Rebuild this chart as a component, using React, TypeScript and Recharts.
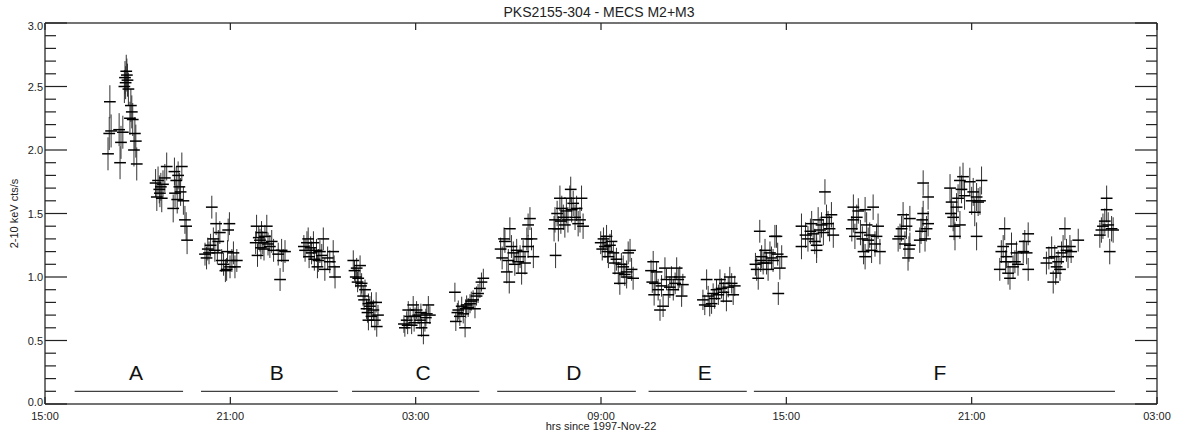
import { ScatterChart, Scatter, XAxis, YAxis, ErrorBar, ReferenceLine } from 'recharts'

type Pt = [number, number] // [hours since 1997-Nov-22 00:00, 2-10 keV cts/s]

const A1: Pt[] = [[17.04, 1.97], [17.08, 2.13], [17.10, 2.38], [17.14, 2.15], [17.40, 2.16], [17.43, 1.90], [17.46, 2.06], [17.52, 2.14], [17.57, 2.50], [17.59, 2.57], [17.61, 2.53], [17.63, 2.62], [17.65, 2.59], [17.67, 2.55], [17.70, 2.48], [17.75, 2.25], [17.78, 2.35], [17.81, 2.30], [17.84, 2.24], [17.88, 2.00], [17.91, 2.13], [17.94, 2.07], [17.97, 1.89]]
const A2: Pt[] = [[18.58, 1.74], [18.62, 1.63], [18.66, 1.76], [18.70, 1.69], [18.72, 1.66], [18.75, 1.71], [18.78, 1.62], [18.82, 1.73], [18.88, 1.78], [18.94, 1.87], [19.15, 1.54], [19.19, 1.83], [19.21, 1.66], [19.25, 1.76], [19.28, 1.61], [19.31, 1.80], [19.35, 1.71], [19.39, 1.67], [19.43, 1.87], [19.48, 1.60], [19.53, 1.45], [19.57, 1.40], [19.60, 1.29]]
const B1: Pt[] = [[20.18, 1.18], [20.23, 1.15], [20.27, 1.22], [20.31, 1.19], [20.36, 1.25], [20.40, 1.55], [20.45, 1.30], [20.50, 1.21], [20.54, 1.42], [20.58, 1.19], [20.61, 1.28], [20.66, 1.35], [20.72, 1.13], [20.78, 1.10], [20.84, 1.05], [20.88, 1.06], [20.91, 1.20], [20.93, 1.37], [20.97, 1.42], [20.99, 1.08], [21.05, 1.13], [21.10, 1.19], [21.15, 1.08], [21.21, 1.13]]
const B2: Pt[] = [[21.82, 1.27], [21.85, 1.40], [21.88, 1.17], [21.92, 1.31], [21.96, 1.29], [21.99, 1.23], [22.01, 1.35], [22.05, 1.27], [22.09, 1.22], [22.12, 1.32], [22.18, 1.40], [22.22, 1.26], [22.28, 1.24], [22.34, 1.28], [22.40, 1.21], [22.55, 1.18], [22.61, 0.98], [22.66, 1.21], [22.71, 1.13], [22.77, 1.20]]
const B3: Pt[] = [[23.38, 1.24], [23.42, 1.21], [23.48, 1.27], [23.52, 1.30], [23.55, 1.16], [23.60, 1.23], [23.63, 1.19], [23.69, 1.27], [23.72, 1.14], [23.79, 1.21], [23.82, 1.08], [23.85, 1.13], [23.90, 1.20], [23.96, 1.17], [24.01, 1.30], [24.06, 1.06], [24.15, 1.15], [24.22, 1.12], [24.33, 1.20], [24.36, 1.08], [24.39, 1.00]]
const C1: Pt[] = [[24.98, 1.13], [25.02, 1.05], [25.06, 1.00], [25.09, 1.07], [25.12, 0.96], [25.14, 0.99], [25.20, 1.09], [25.23, 0.93], [25.25, 0.95], [25.30, 0.85], [25.33, 0.82], [25.36, 0.90], [25.41, 0.75], [25.44, 0.72], [25.47, 0.79], [25.47, 0.66], [25.52, 0.77], [25.57, 0.80], [25.57, 0.69], [25.63, 0.74], [25.68, 0.66], [25.72, 0.80], [25.74, 0.61], [25.78, 0.70]]
const C2: Pt[] = [[26.62, 0.63], [26.65, 0.60], [26.71, 0.66], [26.74, 0.62], [26.76, 0.74], [26.82, 0.69], [26.87, 0.62], [26.92, 0.78], [26.95, 0.64], [26.98, 0.69], [27.03, 0.74], [27.08, 0.70], [27.14, 0.66], [27.17, 0.72], [27.19, 0.60], [27.25, 0.54], [27.30, 0.64], [27.33, 0.68], [27.36, 0.71], [27.41, 0.78], [27.46, 0.70]]
const C3: Pt[] = [[28.27, 0.88], [28.30, 0.65], [28.35, 0.72], [28.38, 0.74], [28.43, 0.69], [28.49, 0.77], [28.54, 0.71], [28.60, 0.60], [28.62, 0.75], [28.65, 0.78], [28.70, 0.76], [28.76, 0.79], [28.80, 0.81], [28.86, 0.82], [28.92, 0.75], [28.97, 0.85], [29.02, 0.87], [29.08, 0.91], [29.13, 0.96], [29.19, 0.99]]
const D1: Pt[] = [[29.75, 1.22], [29.80, 1.15], [29.86, 1.30], [29.89, 1.28], [29.95, 1.04], [30.00, 1.13], [30.03, 0.96], [30.05, 1.38], [30.10, 1.24], [30.16, 1.19], [30.21, 1.10], [30.27, 1.21], [30.32, 1.12], [30.38, 1.16], [30.43, 1.03], [30.48, 1.20], [30.54, 1.11], [30.60, 1.30], [30.64, 1.41], [30.64, 1.24], [30.70, 1.46], [30.75, 1.30], [30.81, 1.16]]
const D2: Pt[] = [[31.48, 1.38], [31.51, 1.45], [31.53, 1.17], [31.58, 1.50], [31.62, 1.38], [31.67, 1.62], [31.70, 1.44], [31.73, 1.54], [31.78, 1.47], [31.83, 1.41], [31.88, 1.52], [31.93, 1.45], [31.99, 1.62], [32.02, 1.69], [32.05, 1.53], [32.10, 1.58], [32.16, 1.47], [32.21, 1.54], [32.26, 1.42], [32.32, 1.45], [32.37, 1.62], [32.42, 1.40]]
const D3: Pt[] = [[32.99, 1.27], [33.04, 1.22], [33.08, 1.30], [33.13, 1.24], [33.18, 1.32], [33.21, 1.20], [33.24, 1.16], [33.29, 1.25], [33.34, 1.28], [33.40, 1.19], [33.45, 1.11], [33.50, 1.14], [33.56, 1.03], [33.61, 0.95], [33.66, 1.10], [33.72, 1.08], [33.77, 1.02], [33.83, 1.00], [33.83, 1.04], [33.88, 1.19], [33.94, 1.21], [33.99, 1.06], [34.04, 0.99]]
const E1: Pt[] = [[34.62, 1.05], [34.66, 0.96], [34.69, 1.12], [34.72, 0.86], [34.75, 0.95], [34.80, 1.04], [34.85, 0.90], [34.91, 0.74], [34.96, 0.93], [35.01, 0.77], [35.07, 1.07], [35.12, 0.98], [35.18, 0.86], [35.23, 0.92], [35.28, 1.00], [35.34, 0.90], [35.40, 0.95], [35.45, 1.07], [35.50, 0.98], [35.55, 1.00], [35.61, 0.85], [35.65, 0.94]]
const E2: Pt[] = [[36.30, 0.82], [36.36, 0.78], [36.42, 0.98], [36.47, 0.85], [36.52, 0.77], [36.58, 0.79], [36.63, 0.87], [36.68, 0.83], [36.74, 0.90], [36.80, 0.86], [36.85, 0.98], [36.90, 0.91], [36.96, 0.88], [37.01, 0.95], [37.06, 0.81], [37.12, 0.92], [37.17, 1.00], [37.23, 0.95], [37.28, 0.86], [37.33, 0.93]]
const F1: Pt[] = [[38.00, 1.10], [38.04, 1.06], [38.09, 0.99], [38.14, 1.36], [38.17, 1.13], [38.20, 1.16], [38.25, 1.11], [38.31, 1.21], [38.36, 1.11], [38.41, 1.06], [38.47, 1.19], [38.52, 1.15], [38.57, 1.13], [38.63, 1.32], [38.68, 1.32], [38.72, 1.18], [38.74, 0.87], [38.79, 1.07], [38.85, 1.16]]
const F2: Pt[] = [[39.49, 1.40], [39.49, 1.24], [39.62, 1.33], [39.70, 1.30], [39.78, 1.36], [39.82, 1.42], [39.87, 1.34], [39.92, 1.28], [39.98, 1.25], [39.98, 1.21], [40.03, 1.45], [40.09, 1.37], [40.14, 1.41], [40.20, 1.35], [40.25, 1.67], [40.30, 1.47], [40.35, 1.42], [40.40, 1.38], [40.46, 1.49], [40.52, 1.33]]
const F3: Pt[] = [[41.12, 1.38], [41.17, 1.55], [41.17, 1.45], [41.22, 1.32], [41.28, 1.47], [41.33, 1.52], [41.40, 1.35], [41.46, 1.30], [41.50, 1.20], [41.55, 1.53], [41.55, 1.16], [41.60, 1.41], [41.65, 1.29], [41.70, 1.33], [41.76, 1.21], [41.81, 1.55], [41.87, 1.26], [41.92, 1.32], [41.97, 1.40], [42.03, 1.20]]
const F4: Pt[] = [[42.62, 1.30], [42.68, 1.32], [42.73, 1.38], [42.78, 1.49], [42.84, 1.26], [42.89, 1.40], [42.94, 1.15], [42.97, 1.22], [43.00, 1.46], [43.00, 1.25], [43.32, 1.29], [43.36, 1.36], [43.40, 1.45], [43.43, 1.74], [43.43, 1.50], [43.49, 1.30], [43.54, 1.38], [43.59, 1.63], [43.59, 1.42]]
const F5: Pt[] = [[44.30, 1.70], [44.33, 1.50], [44.35, 1.59], [44.40, 1.47], [44.43, 1.40], [44.46, 1.32], [44.51, 1.55], [44.56, 1.62], [44.62, 1.76], [44.62, 1.41], [44.67, 1.69], [44.72, 1.79], [44.77, 1.64], [44.94, 1.75], [45.00, 1.60], [45.05, 1.67], [45.10, 1.51], [45.16, 1.63], [45.16, 1.32], [45.21, 1.59], [45.27, 1.60], [45.32, 1.76]]
const F6: Pt[] = [[45.91, 1.06], [45.96, 1.20], [46.02, 1.24], [46.07, 1.38], [46.10, 1.12], [46.13, 1.16], [46.18, 1.03], [46.24, 0.99], [46.29, 1.26], [46.34, 1.08], [46.40, 1.12], [46.45, 1.19], [46.50, 1.10], [46.67, 1.20], [46.72, 1.28], [46.78, 1.19], [46.83, 1.34], [46.83, 1.06]]
const F7: Pt[] = [[47.42, 1.11], [47.50, 1.15], [47.59, 1.23], [47.64, 0.96], [47.69, 1.16], [47.72, 1.03], [47.75, 1.08], [47.80, 1.12], [47.86, 1.06], [47.91, 1.19], [47.96, 1.24], [48.02, 1.38], [48.07, 1.21], [48.12, 1.16], [48.18, 1.24], [48.22, 1.20], [48.45, 1.29]]
const F8: Pt[] = [[49.15, 1.33], [49.20, 1.37], [49.25, 1.40], [49.31, 1.44], [49.37, 1.62], [49.37, 1.53], [49.42, 1.41], [49.47, 1.20], [49.53, 1.38], [49.58, 1.37]]

// one-sigma rate error per orbit, half bin width in hours
const orbits = [
  { seg: 'A', err: 0.13, pts: A1 }, { seg: 'A', err: 0.11, pts: A2 },
  { seg: 'B', err: 0.09, pts: B1 }, { seg: 'B', err: 0.09, pts: B2 }, { seg: 'B', err: 0.09, pts: B3 },
  { seg: 'C', err: 0.08, pts: C1 }, { seg: 'C', err: 0.07, pts: C2 }, { seg: 'C', err: 0.075, pts: C3 },
  { seg: 'D', err: 0.09, pts: D1 }, { seg: 'D', err: 0.1, pts: D2 }, { seg: 'D', err: 0.09, pts: D3 },
  { seg: 'E', err: 0.085, pts: E1 }, { seg: 'E', err: 0.08, pts: E2 },
  { seg: 'F', err: 0.09, pts: F1 }, { seg: 'F', err: 0.1, pts: F2 }, { seg: 'F', err: 0.1, pts: F3 },
  { seg: 'F', err: 0.1, pts: F4 }, { seg: 'F', err: 0.11, pts: F5 }, { seg: 'F', err: 0.09, pts: F6 },
  { seg: 'F', err: 0.09, pts: F7 }, { seg: 'F', err: 0.1, pts: F8 },
]
const halfBin = 0.19

const segNames = ['A', 'B', 'C', 'D', 'E', 'F']
const segFrom = [15.96, 20.05, 24.94, 29.64, 34.54, 37.95]
const segTo = [19.47, 24.48, 29.06, 34.13, 37.72, 49.64]
const segMid = [17.95, 22.5, 27.24, 32.12, 36.36, 43.97]
const segLevel = 0.1
const segLabelLevel = 0.19

const xTicks = [15, 21, 27, 33, 39, 45, 51]
const xTickLabels = ['15:00', '21:00', '03:00', '09:00', '15:00', '21:00', '03:00']
const yTicks = [0, 0.1, 0.2, 0.3, 0.4, 0.5, 0.6, 0.7, 0.8, 0.9, 1, 1.1, 1.2, 1.3, 1.4, 1.5, 1.6, 1.7, 1.8, 1.9, 2,
  2.1, 2.2, 2.3, 2.4, 2.5, 2.6, 2.7, 2.8, 2.9, 3]

const FONT = '"Liberation Sans", Arial, Helvetica, sans-serif'
const FRAME = { stroke: '#444', strokeWidth: 1.5 }
const TICK = '#222'

const isMajor = (v: number) => Math.abs(v * 2 - Math.round(v * 2)) < 1e-6

function LeftTick(p: any) {
  const v = p.payload.value
  const major = isMajor(v)
  const dy = v === 0 ? -2.5 : v === 3 ? 2.5 : 0
  return (
    <g>
      <rect x={p.x} y={p.y - 0.6} width={major ? 22 : 11} height={1.2} fill={TICK} />
      {major && (
        <text x={p.x - 2} y={p.y + 4 + dy} textAnchor="end" fontSize={11} fontFamily={FONT} fill="#222">
          {v.toFixed(1)}
        </text>
      )}
    </g>
  )
}

function RightTick(p: any) {
  const w = isMajor(p.payload.value) ? 22 : 11
  return <rect x={p.x - w} y={p.y - 0.6} width={w} height={1.2} fill={TICK} />
}

function BottomTick(p: any) {
  const i = xTicks.indexOf(p.payload.value)
  return (
    <g>
      <rect x={p.x - 0.6} y={p.y - 7} width={1.2} height={7} fill={TICK} />
      <text x={p.x} y={p.y + 15.5} textAnchor="middle" fontSize={11} fontFamily={FONT} fill="#222">
        {xTickLabels[i]}
      </text>
    </g>
  )
}

function TopTick(p: any) {
  return <rect x={p.x - 0.6} y={p.y} width={1.2} height={7} fill={TICK} />
}

const noDot = () => <g />

export default function App() {
  const series = segNames.map((s) =>
    orbits
      .filter((o) => o.seg === s)
      .flatMap((o) => o.pts.map(([t, r]) => ({ t, r, ex: halfBin, ey: o.err })))
  )
  const labels = segNames.map((name, i) => ({ name, t: segMid[i], r: segLabelLevel }))

  return (
    <div style={{ position: 'absolute', left: 0, top: 0, width: 1180, height: 443, fontFamily: FONT, background: '#fff' }}>
      <div style={{ position: 'absolute', left: 0, width: 1198, top: 5, textAlign: 'center', fontSize: 14, lineHeight: '14px', color: '#222' }}>
        PKS2155-304 - MECS M2+M3
      </div>
      <div style={{ position: 'absolute', left: 0, width: 1202, top: 420.5, textAlign: 'center', fontSize: 11, lineHeight: '11px', color: '#222' }}>
        hrs since 1997-Nov-22
      </div>
      <div style={{ position: 'absolute', left: 14 - 100, width: 200, top: 213 - 5.5, height: 11, textAlign: 'center', fontSize: 11, lineHeight: '11px', color: '#222', transform: 'rotate(-90deg)' }}>
        2-10 keV cts/s
      </div>
      <ScatterChart width={1180} height={443} margin={{ top: 0, right: 0, bottom: 0, left: 0 }} style={{ position: 'absolute', left: 0, top: 0 }}>
        <XAxis xAxisId="b" dataKey="t" type="number" domain={[15, 51]} ticks={xTicks} interval={0} height={39}
          axisLine={FRAME} tickLine={false} tickSize={0} tickMargin={0} tick={BottomTick} />
        <XAxis xAxisId="t" dataKey="t" orientation="top" type="number" domain={[15, 51]} ticks={xTicks} interval={0} height={23}
          axisLine={FRAME} tickLine={false} tickSize={0} tickMargin={0} tick={TopTick} />
        <YAxis yAxisId="l" dataKey="r" type="number" domain={[0, 3]} ticks={yTicks} interval={0} width={45}
          axisLine={FRAME} tickLine={false} tickSize={0} tickMargin={0} tick={LeftTick} />
        <YAxis yAxisId="r" dataKey="r" orientation="right" type="number" domain={[0, 3]} ticks={yTicks} interval={0} width={23}
          axisLine={FRAME} tickLine={false} tickSize={0} tickMargin={0} tick={RightTick} />
        {segNames.map((s, i) => (
          <ReferenceLine key={s} xAxisId="b" yAxisId="l" stroke="#111" strokeWidth={1}
            segment={[{ x: segFrom[i], y: segLevel }, { x: segTo[i], y: segLevel }]} />
        ))}
        {series.map((pts, i) => (
          <Scatter key={segNames[i]} xAxisId="b" yAxisId="l" data={pts} dataKey="r" shape={noDot} isAnimationActive={false}>
            <ErrorBar dataKey="ey" direction="y" width={0} stroke="#333" strokeWidth={1} />
            <ErrorBar dataKey="ex" direction="x" width={0} stroke="#000" strokeWidth={1.5} />
          </Scatter>
        ))}
        {/* segment letters; also gives the top and right frame axes something to scale */}
        <Scatter xAxisId="t" yAxisId="r" data={labels} dataKey="r" isAnimationActive={false}
          shape={(p: any) => (
            <text x={p.cx} y={p.cy} textAnchor="middle" fontSize={21} fontFamily={FONT} fill="#111">
              {p.payload.name}
            </text>
          )} />
      </ScatterChart>
    </div>
  )
}
